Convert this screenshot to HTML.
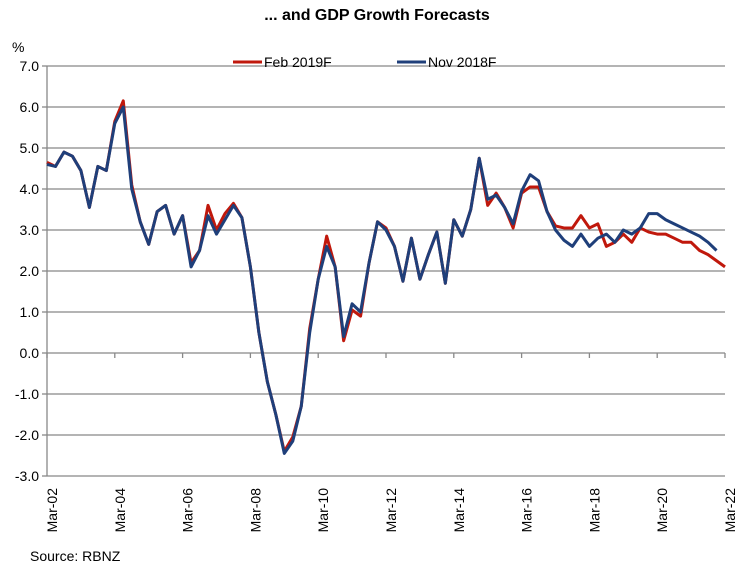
<!DOCTYPE html>
<html><head><meta charset="utf-8"><style>
body{margin:0;background:#fff;}
svg text{font-family:"Liberation Sans",Arial,sans-serif;}
</style></head><body>
<svg id="chart" width="754" height="567" viewBox="0 0 754 567">
<text x="377" y="20" text-anchor="middle" font-size="16" font-weight="bold">... and  GDP Growth Forecasts</text>
<text x="12" y="52" font-size="14">%</text>
<g id="grid"></g>
<g id="yticks"></g>
<g id="xticks"></g>
<g id="series"></g>
<g>
<g>
<line x1="233" y1="62" x2="262" y2="62" stroke="#c0180c" stroke-width="3"/>
<text x="264" y="67" font-size="14">Feb 2019F</text></g>
<g>
<line x1="397" y1="62" x2="426" y2="62" stroke="#1f3f7a" stroke-width="3"/>
<text x="428" y="67" font-size="14">Nov 2018F</text></g>
</g>
<text x="30" y="561" font-size="14">Source: RBNZ</text>
</svg>
<script>
const yTicks=[-3,-2,-1,0,1,2,3,4,5,6,7];
const xTickLabels=["Mar-02","Mar-04","Mar-06","Mar-08","Mar-10","Mar-12","Mar-14","Mar-16","Mar-18","Mar-20","Mar-22"];
const feb2019=[4.65,4.55,4.9,4.8,4.45,3.55,4.55,4.45,5.65,6.15,4.1,3.2,2.65,3.45,3.6,2.9,3.35,2.2,2.5,3.6,3.0,3.4,3.65,3.3,2.1,0.5,-0.7,-1.5,-2.4,-2.05,-1.3,0.6,1.8,2.85,2.1,0.3,1.05,0.9,2.2,3.2,3.05,2.6,1.75,2.8,1.8,2.4,2.95,1.7,3.25,2.85,3.5,4.75,3.6,3.9,3.55,3.05,3.9,4.05,4.05,3.45,3.1,3.05,3.05,3.35,3.05,3.15,2.6,2.7,2.9,2.7,3.05,2.95,2.9,2.9,2.8,2.7,2.7,2.5,2.4,2.25,2.1];
const nov2018=[4.6,4.55,4.9,4.8,4.45,3.55,4.55,4.45,5.6,6.0,4.0,3.2,2.65,3.45,3.6,2.9,3.35,2.1,2.5,3.35,2.9,3.25,3.6,3.3,2.1,0.5,-0.7,-1.5,-2.45,-2.15,-1.3,0.5,1.8,2.6,2.1,0.4,1.2,1.0,2.2,3.2,3.0,2.6,1.75,2.8,1.8,2.4,2.95,1.7,3.25,2.85,3.5,4.75,3.75,3.85,3.55,3.15,3.95,4.35,4.2,3.45,3.0,2.75,2.6,2.9,2.6,2.8,2.9,2.7,3.0,2.9,3.05,3.4,3.4,3.25,3.15,3.05,2.95,2.85,2.7,2.5];
const NS="http://www.w3.org/2000/svg";
const X0=47,X1=725,Y7=66,Y3=476,NQ=80;
function xs(i){return X0+(X1-X0)*i/NQ;}
function ys(v){return Y7+(7-v)*(Y3-Y7)/10;}
function mk(t,a,p){const e=document.createElementNS(NS,t);for(const k in a)e.setAttribute(k,a[k]);p.appendChild(e);return e;}
const grid=document.getElementById('grid'),yt=document.getElementById('yticks'),xt=document.getElementById('xticks'),ser=document.getElementById('series');
yTicks.forEach(v=>{
 const l=mk('line',{x1:X0,x2:X1,y1:ys(v),y2:ys(v),stroke:'#888','stroke-width':1.3},grid);
 
 
 mk('line',{x1:X0-5,x2:X0,y1:ys(v),y2:ys(v),stroke:'#888','stroke-width':1.3},yt);
 const tx=mk('text',{x:X0-8,y:ys(v)+5,'text-anchor':'end','font-size':14},yt);
 tx.textContent=v.toFixed(1);
 
 
});
mk('line',{x1:X0,x2:X0,y1:Y7,y2:Y3,stroke:'#888','stroke-width':1.3},yt);
xTickLabels.forEach((lab,k)=>{
 const x=xs(k*8);
 mk('line',{x1:x,x2:x,y1:ys(0),y2:ys(0)+5,stroke:'#888','stroke-width':1.3},xt);
 const tx=mk('text',{x:0,y:0,'text-anchor':'end','font-size':14,transform:`translate(${x+10},488) rotate(-90)`},xt);
 tx.textContent=lab;
 
 
});
function line(data,color,name){
 const p=mk('polyline',{points:data.map((v,i)=>xs(i)+','+ys(v)).join(' '),fill:'none',stroke:color,'stroke-width':3,'stroke-linejoin':'round'},ser);
 
 
}
line(feb2019,'#c0180c','feb-2019f-line');
line(nov2018,'#1f3f7a','nov-2018f-line');
</script>
</body></html>
